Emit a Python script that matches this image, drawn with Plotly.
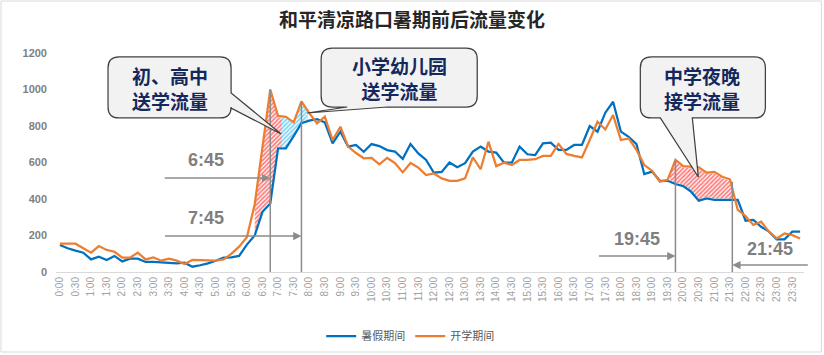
import numpy as np
import plotly.graph_objects as go

times = ["0:00","0:15","0:30","0:45","1:00","1:15","1:30","1:45","2:00","2:15","2:30","2:45",
         "3:00","3:15","3:30","3:45","4:00","4:15","4:30","4:45","5:00","5:15","5:30","5:45",
         "6:00","6:15","6:30","6:45","7:00","7:15","7:30","7:45","8:00","8:15","8:30","8:45",
         "9:00","9:15","9:30","9:45","10:00","10:15","10:30","10:45","11:00","11:15","11:30","11:45",
         "12:00","12:15","12:30","12:45","13:00","13:15","13:30","13:45","14:00","14:15","14:30","14:45",
         "15:00","15:15","15:30","15:45","16:00","16:15","16:30","16:45","17:00","17:15","17:30","17:45",
         "18:00","18:15","18:30","18:45","19:00","19:15","19:30","19:45","20:00","20:15","20:30","20:45",
         "21:00","21:15","21:30","21:45","22:00","22:15","22:30","22:45","23:00","23:15","23:30","23:45"]

summer = [148,130,117,106,69,84,66,88,58,73,73,55,
          55,51,47,47,51,29,37,47,62,79,80,88,
          150,200,330,375,678,678,745,815,829,838,820,705,
          769,687,696,659,701,690,668,660,620,701,650,614,
          544,548,600,574,596,660,687,660,654,599,599,687,
          645,641,705,709,669,669,696,696,800,769,873,933,
          769,741,701,537,550,500,500,482,471,440,391,403,
          395,395,395,395,281,285,248,221,179,179,221,221]

school = [155,155,155,130,106,142,121,111,79,79,106,69,
          80,62,73,62,44,66,66,66,62,69,99,139,
          190,370,690,1000,855,850,820,935,870,815,851,723,
          796,687,652,623,625,590,625,597,546,597,572,531,
          540,513,500,500,513,628,563,714,580,599,586,614,
          614,618,636,636,702,647,636,628,723,823,781,860,
          723,732,669,586,555,495,505,614,580,577,573,544,
          549,522,508,340,307,258,276,221,184,211,202,184]

series_names = ["暑假期间", "开学期间"]
y_ticks = [0, 200, 400, 600, 800, 1000, 1200]

BLUE = "#0070C0"
ORANGE = "#ED7D31"
GREY = "#7F7F7F"
NAVY = "#14285C"

W_FIG, H_FIG = 824, 355
L, R, T, B = 56, 20.4, 53, 83
PW = W_FIG - L - R
PH = H_FIG - T - B

def px(x):
    return (x - L) / PW

def py(y):
    return (H_FIG - B - y) / PH

idx = np.arange(len(times))
s_arr = np.array(summer, dtype=float)
o_arr = np.array(school, dtype=float)

fig = go.Figure()

def hatch(i0, i1, color, inset=8):
    xs = np.concatenate([[i0], idx[(idx > i0) & (idx < i1)], [i1]]).astype(float)
    top = np.interp(xs, idx, o_arr) - inset
    bot = np.interp(xs, idx, s_arr) + inset
    px_ = list(xs) + list(xs[::-1])
    py_ = list(top) + list(bot[::-1])
    fig.add_trace(go.Scatter(
        x=px_, y=py_, mode="lines", fill="toself", line=dict(width=0),
        fillcolor="rgba(0,0,0,0)",
        fillpattern=dict(shape="/", fgcolor=color, bgcolor="white", size=3, solidity=0.6),
        showlegend=False, hoverinfo="skip"))

hatch(25.0, 28.5, "#FF0000")
hatch(28.5, 31.8, "#00B0F0")
hatch(78.3, 86.3, "#FF0000")

fig.add_trace(go.Scatter(x=idx, y=summer, mode="lines", name=series_names[0],
                         line=dict(color=BLUE, width=2.25)))
fig.add_trace(go.Scatter(x=idx, y=school, mode="lines", name=series_names[1],
                         line=dict(color=ORANGE, width=2.25)))

shapes = []
# chart border
shapes.append(dict(type="rect", xref="paper", yref="paper",
                   x0=px(1), x1=px(821), y0=py(352), y1=py(1),
                   line=dict(color="#D9D9D9", width=1), layer="below"))

# vertical marker lines
for xv, top in [(27, 1000), (31, 935), (79, 614), (86.3, 495)]:
    shapes.append(dict(type="line", xref="x", yref="y", x0=xv, x1=xv, y0=0, y1=top,
                       line=dict(color="#8C8C8C", width=1.5), layer="above"))

def callout(x0, y0, x1, y1, r, right_ptr=None, bottom_ptr=None):
    def P(x, y):
        return f"{px(x):.5f},{py(y):.5f}"
    d = f"M{P(x0 + r, y0)} L{P(x1 - r, y0)} Q{P(x1, y0)} {P(x1, y0 + r)} "
    if right_ptr:
        (ya, tip, yb) = right_ptr
        d += f"L{P(x1, ya)} L{P(*tip)} L{P(x1, yb)} "
    d += f"L{P(x1, y1 - r)} Q{P(x1, y1)} {P(x1 - r, y1)} "
    if bottom_ptr:
        (xa, tip, xb) = bottom_ptr
        d += f"L{P(xa, y1)} L{P(*tip)} L{P(xb, y1)} "
    d += f"L{P(x0 + r, y1)} Q{P(x0, y1)} {P(x0, y1 - r)} L{P(x0, y0 + r)} Q{P(x0, y0)} {P(x0 + r, y0)} Z"
    return dict(type="path", xref="paper", yref="paper", path=d,
                fillcolor="#F2F2F2", line=dict(color="#404040", width=1.25), layer="above")

shapes.append(callout(108, 57, 231, 118, 11, right_ptr=(93, (281, 134), 108)))
shapes.append(callout(321, 48, 477, 107, 11, bottom_ptr=(387, (307, 113), 347)))
shapes.append(callout(640, 57, 765, 118, 11, bottom_ptr=(692, (698, 177), 660)))

annotations = []
cjk = "Noto Sans CJK SC"
for (cx, cy, txt) in [(170, 88, "初、高中<br>送学流量"),
                      (399, 78, "小学幼儿园<br>送学流量"),
                      (702, 88, "中学夜晚<br>接学流量")]:
    annotations.append(dict(xref="paper", yref="paper", x=px(cx), y=py(cy),
                            text=f"<b>{txt}</b>", showarrow=False, align="center",
                            xanchor="center", yanchor="middle",
                            font=dict(family=cjk, size=19, color=NAVY)))

lab_font = dict(family="Liberation Sans", size=18, color=GREY)
for (cx, cy, txt) in [(206, 160, "6:45"), (206, 218, "7:45"),
                      (637, 239, "19:45"), (770, 249, "21:45")]:
    annotations.append(dict(xref="paper", yref="paper", x=px(cx), y=py(cy),
                            text=f"<b>{txt}</b>", showarrow=False,
                            xanchor="center", yanchor="middle", font=lab_font))

# arrows
for (hx, hy_pix, ax) in [(27, 178, -107), (31, 236, -138), (79, 256, -78), (86.3, 265, 77)]:
    annotations.append(dict(xref="x", yref="paper", x=hx, y=py(hy_pix), ax=ax, ay=0,
                            text="", showarrow=True, arrowhead=2, arrowsize=1.1,
                            arrowwidth=1.5, arrowcolor="#8C8C8C", standoff=0))

fig.update_layout(
    width=W_FIG, height=H_FIG,
    margin=dict(l=L, r=R, t=T, b=B, autoexpand=False),
    paper_bgcolor="white", plot_bgcolor="white",
    title=dict(text="<b>和平清凉路口暑期前后流量变化</b>", x=0.5, xanchor="center",
               y=1 - 20 / H_FIG, yanchor="middle",
               font=dict(family=cjk, size=19, color="#262626")),
    showlegend=True,
    legend=dict(orientation="h", x=px(410), xanchor="center", y=py(336), yanchor="middle",
                font=dict(family=cjk, size=11, color="#595959"), bgcolor="rgba(0,0,0,0)"),
    shapes=shapes, annotations=annotations,
)
fig.update_xaxes(range=[-0.5, 95.5], tickmode="array", tickvals=list(idx[::2]),
                 ticktext=times[::2], tickangle=-90,
                 tickfont=dict(family="Liberation Sans", size=10, color="#A0A0A0"),
                 showgrid=False, zeroline=False, showline=True, linecolor="#D9D9D9",
                 linewidth=1, ticks="")
fig.update_yaxes(range=[0, 1200], tickmode="array", tickvals=y_ticks,
                 tickfont=dict(family="Liberation Sans", size=11, color="#7F7F7F", weight="bold"),
                 showgrid=False, zeroline=False, showline=False, ticks="",
                 ticklabelstandoff=8)

fig.write_html("out.html", config={"displayModeBar": False},
               post_script="document.body.style.margin='0';")
